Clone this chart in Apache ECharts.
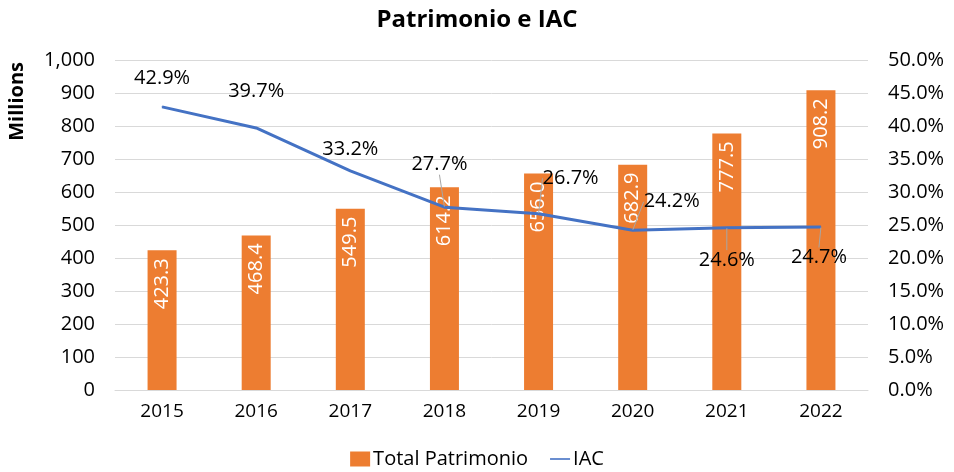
<!DOCTYPE html>
<html>
<head>
<meta charset="utf-8">
<script src="https://cdn.jsdelivr.net/npm/echarts@6/dist/echarts.min.js"></script>
<style>
  html, body { margin: 0; padding: 0; background: #fff; }
  #chart { width: 954px; height: 472px; }
</style>
</head>
<body>
<div id="chart"></div>
<script>
/* Patrimonio e IAC — bars (millions) + IAC line (%) */
const years = ['2015', '2016', '2017', '2018', '2019', '2020', '2021', '2022'];
const patrimonio = [423.3, 468.4, 549.5, 614.2, 656.0, 682.9, 777.5, 908.2];
const iac = [42.9, 39.7, 33.2, 27.7, 26.7, 24.2, 24.6, 24.7];

// label nudges for the IAC labels (px), like the Excel layout
const iacShift = [[0, -13], [0, -21], [0, -6], [-5, -27], [32, -20], [39, -13], [0, 48], [-2, 46]];
const withLeader = [false, false, false, true, true, true, true, true];

const FONT = '"Open Sans", "Noto Sans", sans-serif';
const chart = echarts.init(document.getElementById('chart'));

chart.setOption({
  backgroundColor: '#fff',
  animation: false,
  textStyle: { fontFamily: FONT },
  title: {
    text: 'Patrimonio e IAC', left: 'center', top: 3,
    textStyle: { fontFamily: FONT, fontSize: 24, fontWeight: 'bold', color: '#000' }
  },
  graphic: [{
    type: 'text', left: 7, top: 62, rotation: Math.PI / 2,
    style: { text: 'Millions', fill: '#000', font: 'bold 20px ' + FONT }
  }],
  grid: { left: 115, right: 86, top: 60, bottom: 82 },
  legend: {
    bottom: -2, left: 'center', itemGap: 22,
    itemWidth: 20, itemHeight: 15,
    textStyle: { fontFamily: FONT, fontSize: 20, color: '#000', padding: [0, 0, 0, -2] },
    data: [
      { name: 'Total Patrimonio', icon: 'rect' },
      { name: 'IAC', icon: 'path://M0,6 L30,6 L30,8.4 L0,8.4 Z', itemStyle: { color: '#4472c4' } }
    ]
  },
  xAxis: {
    type: 'category', data: years,
    axisLine: { lineStyle: { color: '#d9d9d9' } },
    axisTick: { show: false },
    axisLabel: { color: '#000', fontSize: 19, margin: 12 }
  },
  yAxis: [{
    type: 'value', min: 0, max: 1000, interval: 100,
    axisLine: { show: false }, axisTick: { show: false },
    splitLine: { lineStyle: { color: '#d9d9d9' } },
    axisLabel: { color: '#000', fontSize: 20, margin: 20, formatter: v => v.toLocaleString('en-US') }
  }, {
    type: 'value', min: 0, max: 50, interval: 5,
    axisLine: { show: false }, axisTick: { show: false },
    splitLine: { show: false },
    axisLabel: { color: '#000', fontSize: 20, margin: 20, formatter: v => v.toFixed(1) + '%' }
  }],
  series: [{
    name: 'Total Patrimonio', type: 'bar', data: patrimonio,
    barWidth: 29,
    itemStyle: { color: '#ed7d31' },
    label: {
      show: true, position: 'insideTop', rotate: 90, distance: 8,
      align: 'right', verticalAlign: 'middle',
      color: '#fff', fontSize: 20, fontFamily: FONT,
      formatter: p => p.value.toFixed(1)
    }
  }, {
    name: 'IAC', type: 'line', yAxisIndex: 1,
    data: iac.map((v, i) => ({ value: v, labelLine: { show: withLeader[i] } })),
    symbol: 'circle', symbolSize: 1, showSymbol: true, smooth: false,
    lineStyle: { color: '#4472c4', width: 3 },
    itemStyle: { color: '#4472c4' },
    label: {
      show: true, position: 'top', color: '#000', fontSize: 20, fontFamily: FONT,
      formatter: p => p.value.toFixed(1) + '%'
    },
    labelLine: { show: true, lineStyle: { color: '#a6a6a6', width: 1 } },
    labelLayout: p => ({ dx: iacShift[p.dataIndex][0], dy: iacShift[p.dataIndex][1] })
  }]
});
</script>
</body>
</html>
